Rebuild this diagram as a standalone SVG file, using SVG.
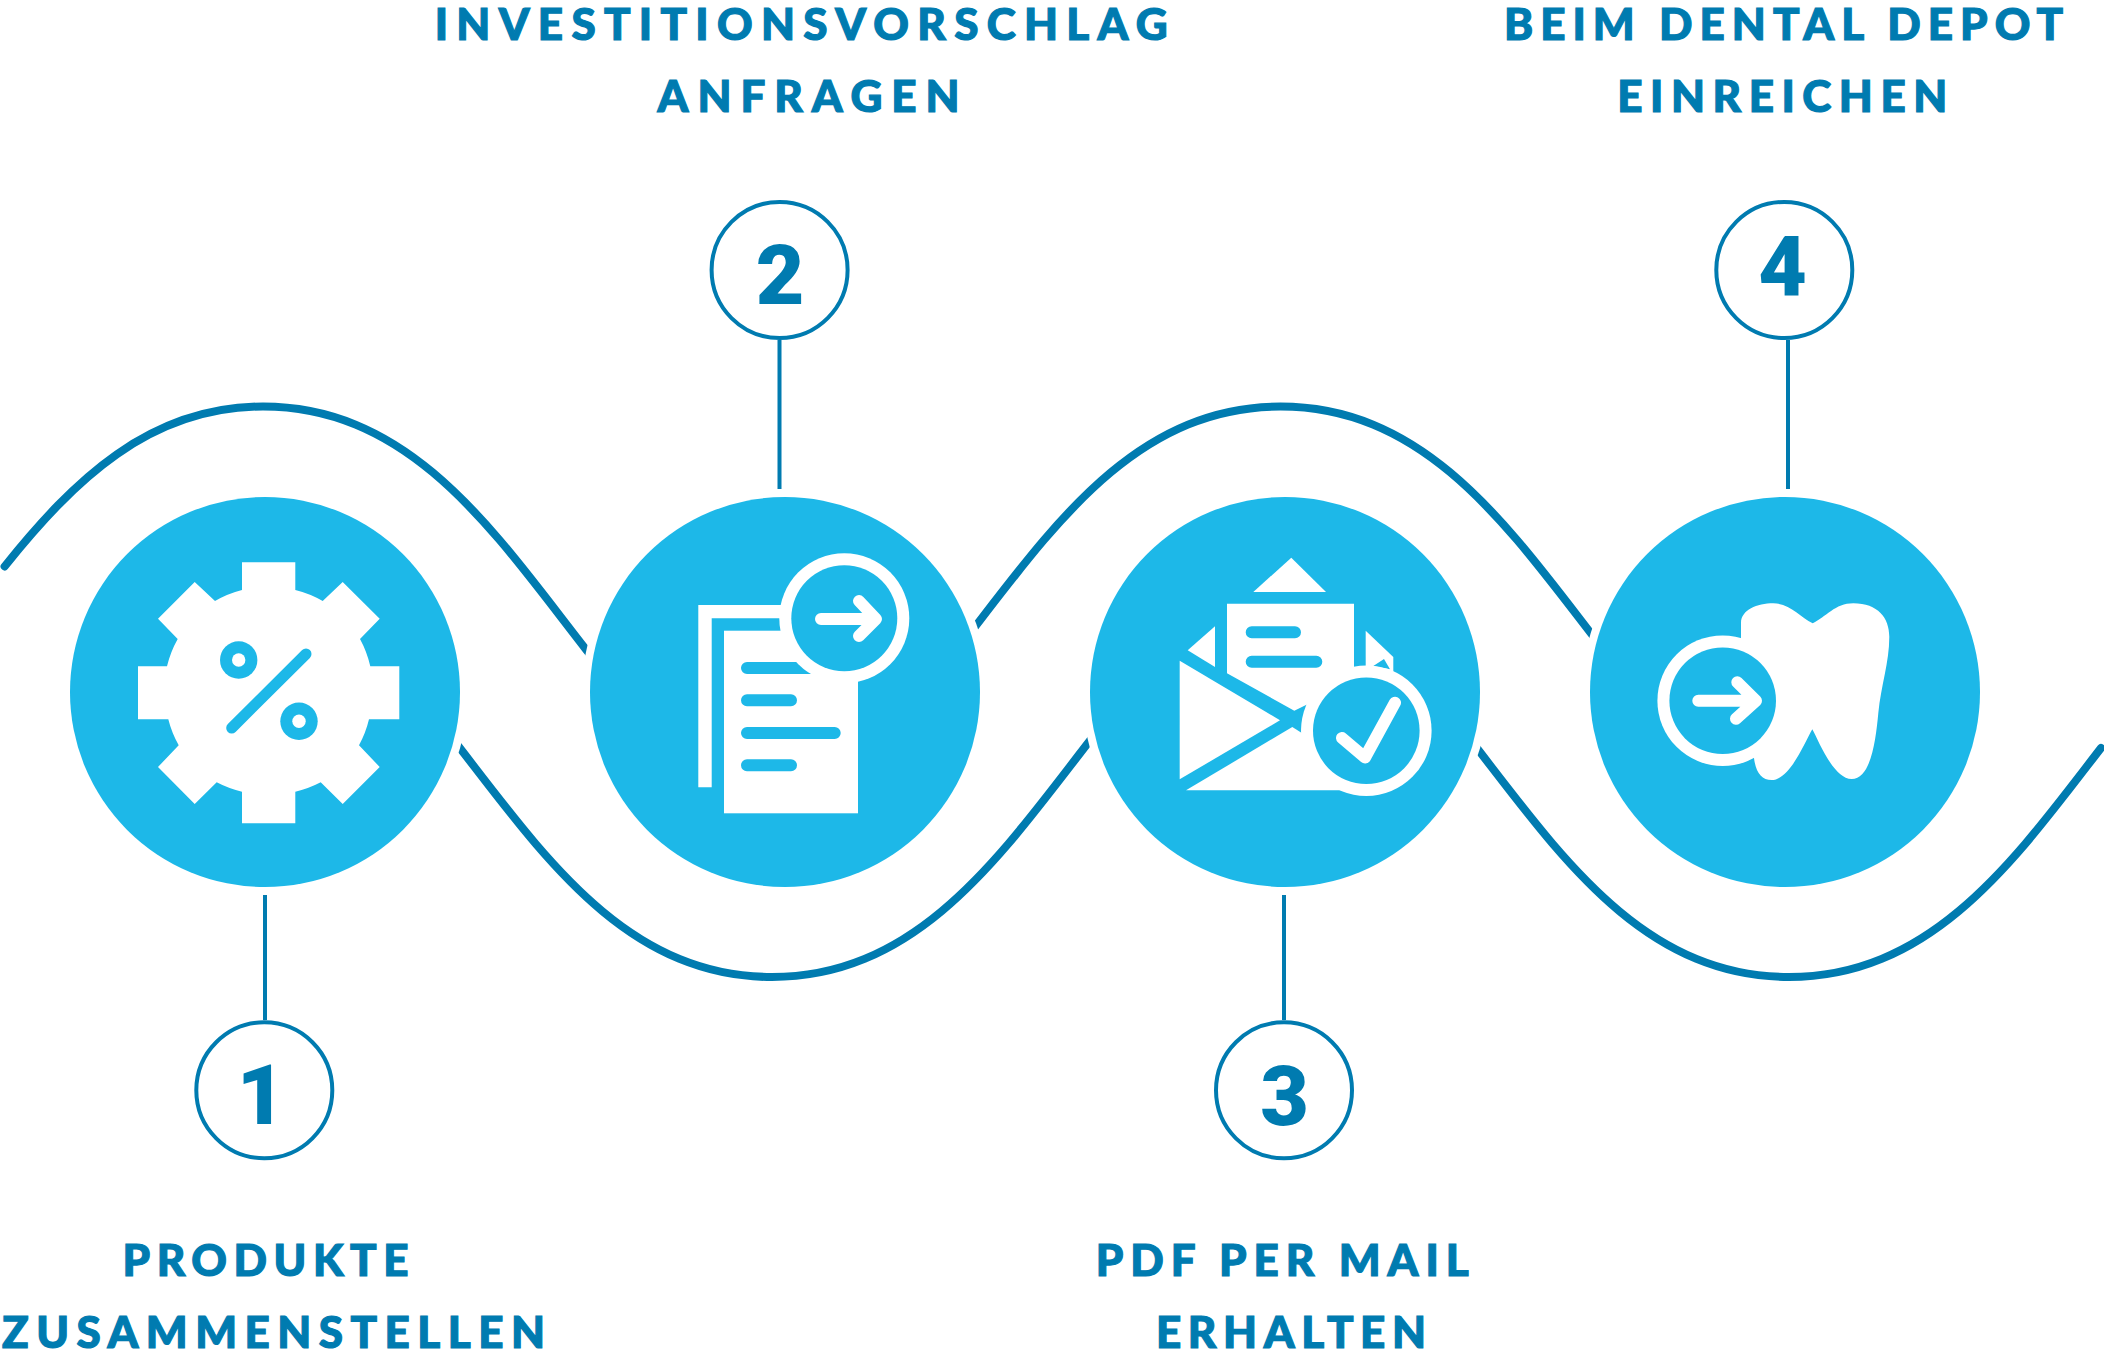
<svg xmlns="http://www.w3.org/2000/svg" width="2104" height="1361" viewBox="0 0 2104 1361">
<defs>
<style>
.bg{fill:#fff}
.wave{fill:none;stroke:#007bb0;stroke-width:8;stroke-linecap:round}
.stem{fill:none;stroke:#007bb0;stroke-width:4}
.halo{fill:#fff}
.disc{fill:#1db8e8}
.ink{fill:#fff}
.blue{fill:#1db8e8}
.bar{fill:none;stroke:#1db8e8;stroke-width:12;stroke-linecap:round}
.pen{fill:none;stroke:#fff;stroke-width:12;stroke-linecap:round;stroke-linejoin:round}
.ring{fill:none;stroke:#007bb0;stroke-width:4}
.label{font-family:"Lato","Liberation Sans",sans-serif;font-weight:900;font-size:44px;fill:#007bb0;stroke:#007bb0;stroke-width:1.2}
.num{font-family:"Roboto","Liberation Sans",sans-serif;font-weight:900;font-size:84px;fill:#007bb0;text-anchor:middle}
</style>
</defs>
<rect class="bg" width="2104" height="1361"/>
<g id="connectors">
<path class="wave" d="M4.6 566.4C73.7 480.4 149 406.5 263 406.5C413 406.5 496 534.5 586 649.5L600 667"/>
<path class="wave" d="M957.5 649.5C1047.5 534.5 1130.5 406.5 1280.5 406.5C1430.5 406.5 1513.5 534.5 1603.5 649.5"/>
<path class="wave" d="M449 734C539 849 622 977 772 977C922 977 1005 849 1095 734"/>
<path class="wave" d="M1466 734C1556 849 1639 977 1789 977C1933 977 2015.3 859 2101 748"/>
<path class="stem" d="M265 895V1020M779.5 340V489M1284 895V1020M1788 340V489"/>
</g>
<g id="node-1">
<circle class="halo" cx="265" cy="692" r="203"/>
<circle class="disc" cx="265" cy="692" r="195"/>
<path class="ink" d="M242 562.3H295.3V590A106 106 0 0 1 322.7 601L342.7 582L379.7 618.7L360 639A106 106 0 0 1 370.3 666.3H399.3V719.3H369A106 106 0 0 1 359 745.3L379.7 767L342.7 804L320.7 782.3A106 106 0 0 1 295.3 791.7V823.3H242V791.7A106 106 0 0 1 216.7 782.3L194.7 804L158 767L178.7 745.3A106 106 0 0 1 168.3 719.3H138V666.3H167A106 106 0 0 1 177.7 639L158 618.7L194.7 582L215 601A106 106 0 0 1 242 590Z"/>
<circle class="blue" cx="238.7" cy="660" r="18.7"/><circle class="ink" cx="238.7" cy="660" r="6.7"/>
<circle class="blue" cx="299" cy="721.3" r="18.7"/><circle class="ink" cx="299" cy="721.3" r="6.7"/>
<path class="bar" style="stroke-width:11" d="M231.7 728L306 654"/>
<circle class="ring" cx="264.3" cy="1090.3" r="68"/>
<text class="num" x="261" y="1124.3">1</text>
<text class="label" x="122.5" y="1276" textLength="286">PRODUKTE</text>
<text class="label" x="2" y="1348" textLength="543">ZUSAMMENSTELLEN</text>
</g>
<g id="node-2">
<circle class="halo" cx="785" cy="692" r="203"/>
<circle class="disc" cx="785" cy="692" r="195"/>
<path class="ink" d="M698.3 605H790V618.3H711.7V787.3H698.3Z"/>
<rect class="ink" x="724" y="630.7" width="134" height="182.6"/>
<path class="bar" d="M747 668H815M747 700.3H791M747 733H834.7M747 765.3H791"/>
<circle class="ink" cx="844.3" cy="618.3" r="65"/>
<circle class="blue" cx="844.3" cy="618.3" r="53"/>
<path class="pen" d="M821 619H873M859 601L876 619L859 636"/>
<circle class="ring" cx="779.6" cy="270" r="68"/>
<text class="num" x="780" y="304">2</text>
<text class="label" x="434.7" y="40" textLength="733">INVESTITIONSVORSCHLAG</text>
<text class="label" x="657.6" y="112" textLength="302">ANFRAGEN</text>
</g>
<g id="node-3">
<circle class="halo" cx="1285" cy="692" r="203"/>
<circle class="disc" cx="1285" cy="692" r="195"/>
<path class="ink" d="M1291.3 557.7L1253.3 592H1326Z"/>
<path class="ink" d="M1227 603.7H1354V690L1306 705L1294.3 710.7L1227 673.3Z"/>
<path class="ink" d="M1187.7 650.3L1215 626.3V667Z"/>
<path class="ink" d="M1365.7 630.7L1393.3 657V690H1365.7Z"/>
<path class="blue" d="M1373.3 666L1384 659L1390 669.3Z"/>
<path class="ink" d="M1179.7 660.7L1280 720.3L1179.7 779.3Z"/>
<path class="ink" d="M1186 790.3L1292.3 727L1305 735L1345 790.3Z"/>
<path class="bar" d="M1251.7 632.3H1295M1251.7 661.7H1316.3"/>
<circle class="ink" cx="1366.3" cy="730.7" r="65.3"/>
<circle class="blue" cx="1366.3" cy="730.7" r="53.3"/>
<path class="pen" d="M1342 738L1365 757.5L1395 702.7"/>
<circle class="ring" cx="1284" cy="1090.3" r="68"/>
<text class="num" x="1284.5" y="1125">3</text>
<text class="label" x="1095.7" y="1276" textLength="373">PDF PER MAIL</text>
<text class="label" x="1156" y="1348" textLength="270">ERHALTEN</text>
</g>
<g id="node-4">
<circle class="halo" cx="1785" cy="692" r="203"/>
<circle class="disc" cx="1785" cy="692" r="195"/>
<path class="ink" d="M1741 635V623C1741 610 1757 603.3 1773.3 603.3C1790 603.3 1800 617 1812.7 623.3C1826 617 1835 603.3 1853.3 603.3C1878 603.3 1889.3 618 1889.3 636.7C1889.3 663 1881 685 1878.3 713.3C1875.8 740 1871 779 1851.7 779C1833.3 779 1818.3 740 1812.3 729.3C1805 741.7 1790 780 1771.7 780C1761.7 780 1756 773 1754 758.3L1740 700Z"/>
<circle class="ink" cx="1722.7" cy="700.7" r="65.3"/>
<circle class="blue" cx="1722.7" cy="700.7" r="53.3"/>
<path class="pen" d="M1698.3 700.7H1755M1737.3 682.3L1756 700.7L1736 718.7"/>
<circle class="ring" cx="1784.3" cy="270" r="68"/>
<text class="num" x="1782.5" y="296">4</text>
<text class="label" x="1504" y="40" textLength="559">BEIM DENTAL DEPOT</text>
<text class="label" x="1617.3" y="112" textLength="330">EINREICHEN</text>
</g>
</svg>
